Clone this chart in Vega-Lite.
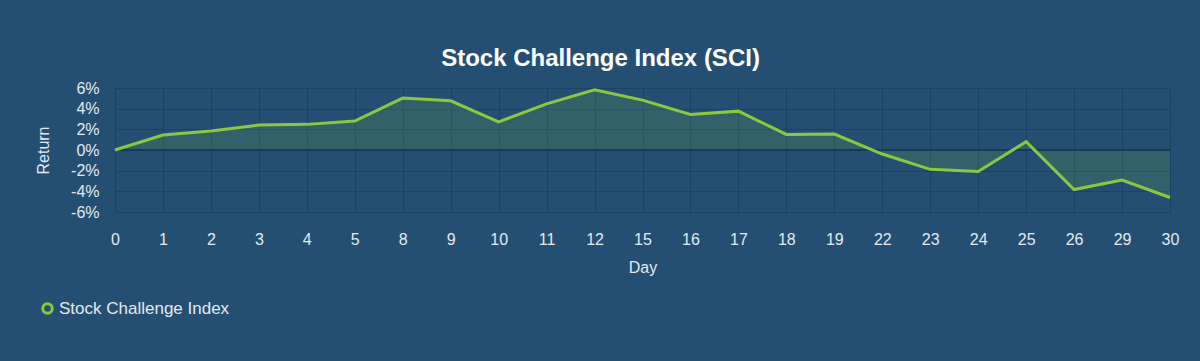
{
  "$schema": "https://vega.github.io/schema/vega-lite/v6.json",
  "width": 1055,
  "height": 124,
  "autosize": {"type": "none"},
  "padding": {"left": 115, "top": 88, "right": 30, "bottom": 149},
  "background": "#244f72",
  "title": {
    "text": "Stock Challenge Index (SCI)",
    "font": "Liberation Sans",
    "fontSize": 24,
    "fontWeight": "bold",
    "color": "#ffffff",
    "anchor": "middle",
    "dx": -42,
    "offset": 9
  },
  "config": {
    "view": {"stroke": null},
    "axis": {
      "labelFont": "Liberation Sans",
      "labelFontSize": 16,
      "labelColor": "#e3e9ef",
      "titleFont": "Liberation Sans",
      "titleFontSize": 16,
      "titleFontWeight": "normal",
      "titleColor": "#e3e9ef",
      "gridColor": "#1c4262",
      "gridOpacity": 1,
      "gridWidth": 1,
      "ticks": false,
      "domain": false
    },
    "legend": {
      "labelFont": "Liberation Sans",
      "labelFontSize": 17,
      "labelColor": "#e3e9ef",
      "labelLimit": 400
    }
  },
  "data": {
    "values": [
      {"day": 0, "ret": 0, "series": "Stock Challenge Index"},
      {"day": 1, "ret": 1.45, "series": "Stock Challenge Index"},
      {"day": 2, "ret": 1.83, "series": "Stock Challenge Index"},
      {"day": 3, "ret": 2.41, "series": "Stock Challenge Index"},
      {"day": 4, "ret": 2.48, "series": "Stock Challenge Index"},
      {"day": 5, "ret": 2.8, "series": "Stock Challenge Index"},
      {"day": 8, "ret": 5.02, "series": "Stock Challenge Index"},
      {"day": 9, "ret": 4.76, "series": "Stock Challenge Index"},
      {"day": 10, "ret": 2.73, "series": "Stock Challenge Index"},
      {"day": 11, "ret": 4.47, "series": "Stock Challenge Index"},
      {"day": 12, "ret": 5.82, "series": "Stock Challenge Index"},
      {"day": 15, "ret": 4.83, "series": "Stock Challenge Index"},
      {"day": 16, "ret": 3.44, "series": "Stock Challenge Index"},
      {"day": 17, "ret": 3.76, "series": "Stock Challenge Index"},
      {"day": 18, "ret": 1.51, "series": "Stock Challenge Index"},
      {"day": 19, "ret": 1.54, "series": "Stock Challenge Index"},
      {"day": 22, "ret": -0.39, "series": "Stock Challenge Index"},
      {"day": 23, "ret": -1.87, "series": "Stock Challenge Index"},
      {"day": 24, "ret": -2.09, "series": "Stock Challenge Index"},
      {"day": 25, "ret": 0.8, "series": "Stock Challenge Index"},
      {"day": 26, "ret": -3.83, "series": "Stock Challenge Index"},
      {"day": 29, "ret": -2.9, "series": "Stock Challenge Index"},
      {"day": 30, "ret": -4.6, "series": "Stock Challenge Index"}
    ]
  },
  "encoding": {
    "x": {
      "field": "day",
      "type": "ordinal",
      "scale": {"type": "point", "padding": 0},
      "axis": {"title": "Day", "labelAngle": 0, "grid": true, "labelPadding": 19, "titlePadding": 12}
    },
    "y": {
      "field": "ret",
      "type": "quantitative",
      "scale": {"domain": [-6, 6], "nice": false},
      "axis": {
        "title": "Return",
        "values": [-6, -4, -2, 0, 2, 4, 6],
        "labelExpr": "datum.value + '%'",
        "labelPadding": 16,
        "titlePadding": 19,
        "grid": true
      }
    }
  },
  "layer": [
    {
      "mark": {"type": "area", "color": "#8bc83f", "opacity": 0.15},
      "encoding": {"y2": {"datum": 0}}
    },
    {
      "mark": {"type": "rule", "color": "#173a58", "strokeWidth": 1},
      "encoding": {"x": {"value": 0}, "x2": {"value": 1055}, "y": {"datum": 0}}
    },
    {
      "mark": {"type": "line", "strokeWidth": 3},
      "encoding": {
        "color": {
          "field": "series",
          "type": "nominal",
          "scale": {"range": ["#8bc83f"]},
          "legend": {
            "title": null,
            "orient": "none",
            "legendX": -76,
            "legendY": 212,
            "symbolType": "circle",
            "symbolSize": 90,
            "symbolStrokeWidth": 3,
            "symbolFillColor": "transparent",
            "labelOffset": 3
          }
        }
      }
    }
  ]
}
